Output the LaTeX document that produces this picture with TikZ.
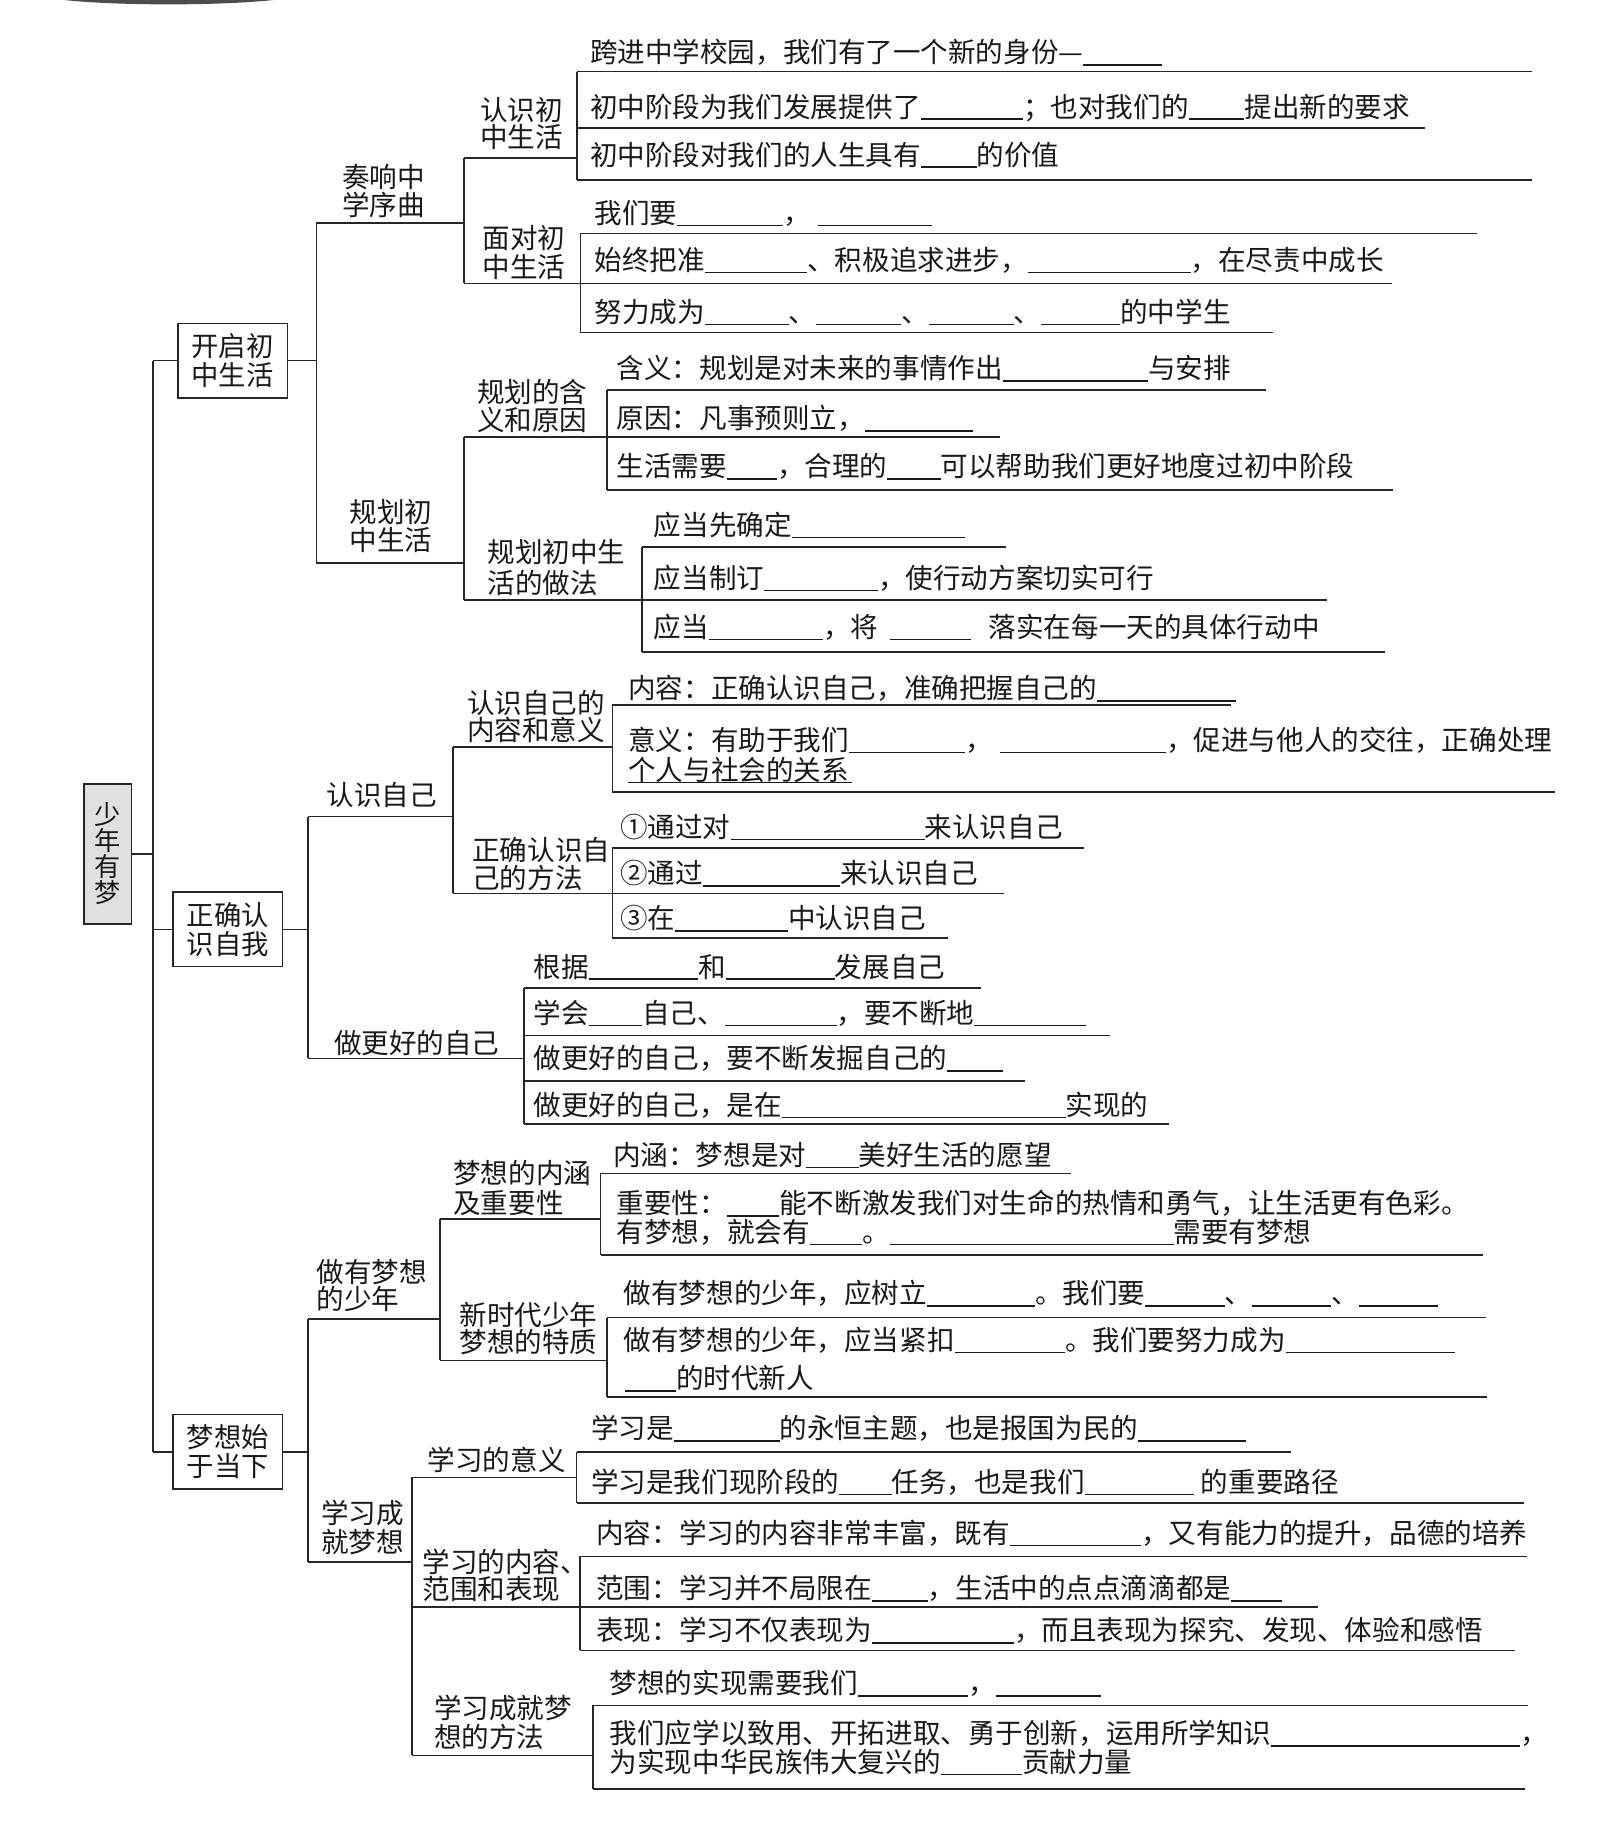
\documentclass[tikz,border=0pt]{standalone}
\usepackage{fontspec}
\newfontfamily\cjk{Noto Sans CJK SC}
\newcommand\blk[1]{\rule[-2.5pt]{#1pt}{1.3pt}}
\newcommand\twol[3][24]{\vtop{\baselineskip=#1pt\lineskiplimit=-1000pt\lineskip=0pt\hbox{#2}\hbox{#3}}}
\newcommand\leafline[3]{\coordinate (#1) at (#2);\draw[ln] (#1 -| #3) -- (#1);}
\tikzset{
  ln/.style={line width=1.4pt, draw=black!85},
  tx/.style={anchor=base west, inner sep=0pt, font=\cjk\fontsize{23.7}{24}\selectfont, text=black!90},
  bx/.style={draw=black!85, line width=1.4pt, minimum width=94pt, minimum height=64pt, inner sep=0pt, align=center, font=\cjk\fontsize{23.5}{25}\selectfont, text=black!90},
  rt/.style={draw=black!85, fill=black!12, line width=1.6pt, minimum width=41pt, minimum height=120pt, inner sep=0pt, align=center, font=\cjk\fontsize{22.5}{22.5}\selectfont, text=black!90}
}
\begin{document}
\begin{tikzpicture}[x=1pt,y=-1pt]
\useasboundingbox (0,0) rectangle (1392,1568);
\fill[white] (0,0) rectangle (1392,1568);
% top decoration
\fill[black!70] (55,0) .. controls (100,5) and (190,5) .. (235,0) -- cycle;

% root and level 1 boxes
\node[rt] (root) at (92.5,734) {少\\年\\有\\梦};
\node[bx] (b1) at (200,310) {开启初\\中生活};
\node[bx] (b2) at (195.8,799) {正确认\\识自我};
\node[bx] (b3) at (195.8,1248) {梦想始\\于当下};

% trunk
\coordinate (T1) at (131.6,310);
\coordinate (T3) at (131.6,1248);
\draw[ln] (T1) -- (T3);
\draw[ln] (root.east) -- (root.east -| T1);
\draw[ln] (b1.west -| T1) -- (b1.west);
\draw[ln] (b2.west -| T1) -- (b2.west);
\draw[ln] (b3.west -| T1) -- (b3.west);

% bracket coordinates
\coordinate (A1) at (496,61.6);   \coordinate (A2) at (496,154.8);
\coordinate (B1) at (499,200.6);  \coordinate (B2) at (499,285.8);
\coordinate (C1) at (522,335.3);  \coordinate (C2) at (522,421.3);
\coordinate (D1) at (552,470);    \coordinate (D2) at (552,560.3);
\coordinate (E1) at (526.4,606);  \coordinate (E2) at (526.4,680.7);
\coordinate (F1) at (526.4,729);  \coordinate (F2) at (526.4,806.2);
\coordinate (G1) at (450.5,849.5);\coordinate (G2) at (450.5,966.5);
\coordinate (H1) at (516.3,1008.7);\coordinate (H2) at (516.3,1079);
\coordinate (I1) at (522,1132.6); \coordinate (I2) at (522,1201);
\coordinate (J1) at (495.7,1248); \coordinate (J2) at (495.7,1292);
\coordinate (M1) at (498.7,1338); \coordinate (M2) at (498.7,1418.7);
\coordinate (N1) at (509.8,1466); \coordinate (N2) at (509.8,1538);
\foreach \p in {A,B,C,D,E,F,G,H,I,J,M,N} \draw[ln] (\p1) -- (\p2);

% branch 1
\coordinate (V1a) at (272,191.5); \coordinate (V1b) at (272,483.8);
\draw[ln] (b1.east) -- (b1.east -| V1a);
\draw[ln] (V1a) -- (V1b);
\coordinate (K1) at (399,136); \coordinate (K2) at (399,243.6);
\coordinate (K3) at (399,375.5); \coordinate (K4) at (399,516);
\draw[ln] (V1a) -- (V1a -| K1);
\draw[ln] (K1) -- (K2);
\draw[ln] (K1) -- (K1 -| A1);
\draw[ln] (K2) -- (K2 -| B1);
\draw[ln] (V1b) -- (V1b -| K3);
\draw[ln] (K3) -- (K4);
\draw[ln] (K3) -- (K3 -| C1);
\draw[ln] (K4) -- (K4 -| D1);

% branch 2
\coordinate (V2a) at (264.6,702); \coordinate (V2b) at (264.6,909.9);
\draw[ln] (b2.east) -- (b2.east -| V2a);
\draw[ln] (V2a) -- (V2b);
\coordinate (K5) at (389.5,642); \coordinate (K6) at (389.5,768);
\draw[ln] (V2a) -- (V2a -| K5);
\draw[ln] (K5) -- (K6);
\draw[ln] (K5) -- (K5 -| E1);
\draw[ln] (K6) -- (K6 -| F1);
\draw[ln] (V2b) -- (V2b -| G1);

% branch 3
\coordinate (V3a) at (264.6,1134); \coordinate (V3b) at (264.6,1342.8);
\draw[ln] (b3.east) -- (b3.east -| V3a);
\draw[ln] (V3a) -- (V3b);
\coordinate (K7) at (378,1048); \coordinate (K8) at (378,1169.4);
\draw[ln] (V3a) -- (V3a -| K7);
\draw[ln] (K7) -- (K8);
\draw[ln] (K7) -- (K7 -| H1);
\draw[ln] (K8) -- (K8 -| I1);
\coordinate (K9) at (354.4,1270); \coordinate (K10) at (354.4,1509); \coordinate (K11) at (354.4,1381.5);
\draw[ln] (V3b) -- (V3b -| K9);
\draw[ln] (K9) -- (K10);
\draw[ln] (K9) -- (K9 -| J1);
\draw[ln] (K11) -- (K11 -| M1);
\draw[ln] (K10) -- (K10 -| N1);

% leaf underlines
\leafline{e1}{1317,61.6}{A1} \leafline{e2}{1225,109.8}{A1} \leafline{e3}{1317,154.8}{A1}
\leafline{e4}{1269.7,200.6}{B1} \leafline{e5}{1196.6,243.6}{B1} \leafline{e6}{1094.6,285.8}{B1}
\leafline{e7}{1088,335.3}{C1} \leafline{e8}{860,375.5}{C1} \leafline{e9}{1197.7,421.3}{C1}
\leafline{e10}{865,470}{D1} \leafline{e11}{1141,516}{D1} \leafline{e12}{1190.5,560.3}{D1}
\leafline{e13}{1058,606}{E1} \leafline{e14}{1336.7,680.7}{E1}
\leafline{e15}{932,729}{F1} \leafline{e16}{863,768}{F1} \leafline{e17}{815,806.2}{F1}
\leafline{e18}{843.5,849.5}{G1} \leafline{e19}{954,890}{G1} \leafline{e20}{881,929}{G1} \leafline{e21}{1005,966.5}{G1}
\leafline{e22}{921,1008.7}{H1} \leafline{e23}{1274.7,1079}{H1}
\leafline{e24}{1277,1132.6}{I1} \leafline{e25}{1278,1201}{I1}
\leafline{e26}{1110,1248}{J1} \leafline{e27}{1310,1292}{J1}
\leafline{e28}{1312.6,1338}{M1} \leafline{e29}{1133,1381.5}{M1} \leafline{e30}{1302.5,1418.7}{M1}
\leafline{e31}{1313.6,1466}{N1} \leafline{e32}{1311,1538}{N1}

% level 2 and 3 labels
\node[tx] (l1) at (294,160.9) {\twol{奏响中}{学序曲}};
\node[tx] (l2) at (300.5,448.9) {\twol{规划初}{中生活}};
\node[tx] (l3) at (412.5,103.5) {\twol[23]{认识初}{中生活}};
\node[tx] (l4) at (414.6,213.9) {\twol[24.5]{面对初}{中生活}};
\node[tx] (l5) at (410,345.7) {\twol{规划的含}{义和原因}};
\node[tx] (l6) at (419,483.2) {\twol[27]{规划初中生}{活的做法}};
\node[tx] (l7) at (280.7,692.5) {认识自己};
\node[tx] (l8) at (287,905.9) {做更好的自己};
\node[tx] (l9) at (401.4,613.5) {\twol[23]{认识自己的}{内容和意义}};
\node[tx] (l10) at (405.8,739.9) {\twol{正确认识自}{己的方法}};
\node[tx] (l11) at (272,1102.3) {\twol[23]{做有梦想}{的少年}};
\node[tx] (l12) at (276,1309.9) {\twol[24.6]{学习成}{就梦想}};
\node[tx] (l13) at (389.5,1017.6) {\twol[26]{梦想的内涵}{及重要性}};
\node[tx] (l14) at (394.8,1139.6) {\twol[23]{新时代少年}{梦想的特质}};
\node[tx] (l15) at (367.6,1263.9) {学习的意义};
\node[tx] (l16) at (363,1351.7) {\twol[23]{学习的内容、}{范围和表现}};
\node[tx] (l17) at (373,1477.5) {\twol[24.4]{学习成就梦}{想的方法}};

% leaves
\node[tx] (n1) at (507,53.9) {跨进中学校园，我们有了一个新的身份—\blk{68}};
\node[tx] (n2) at (507,100.6) {初中阶段为我们发展提供了\blk{88}；也对我们的\blk{48}提出新的要求};
\node[tx] (n3) at (507,141.9) {初中阶段对我们的人生具有\blk{48}的价值};
\node[tx] (n4) at (511,191.9) {我们要\blk{91}，\hspace{6pt}\blk{98}};
\node[tx] (n5) at (511,232.5) {始终把准\blk{88}、积极追求进步，\blk{140}，在尽责中成长};
\node[tx] (n6) at (511,276.9) {努力成为\blk{72}、\blk{73}、\blk{73}、\blk{68}的中学生};
\node[tx] (n7) at (530,325.5) {含义：规划是对未来的事情作出\blk{125}与安排};
\node[tx] (n8) at (530,368.6) {原因：凡事预则立，\blk{93}};
\node[tx] (n9) at (530,409.9) {生活需要\blk{43}，合理的\blk{46}可以帮助我们更好地度过初中阶段};
\node[tx] (n10) at (562,460.3) {应当先确定\blk{149}};
\node[tx] (n11) at (562,505.9) {应当制订\blk{98}，使行动方案切实可行};
\node[tx] (n12) at (562,547.7) {应当\blk{98}，将\hspace{10pt}\blk{70}\hspace{15pt}落实在每一天的具体行动中};
\node[tx] (n13) at (540,600.6) {内容：正确认识自己，准确把握自己的\blk{119}};
\node[tx] (n14) at (540,645.2) {意义：有助于我们\blk{100}，\hspace{6pt}\blk{143}，促进与他人的交往，正确处理};
\node[tx] (n14b) at (540,670.9) {\rlap{\rule[-2.5pt]{192pt}{1.3pt}}个人与社会的关系};
\node[tx] (n15) at (533,719.7) {①通过对\blk{167}来认识自己};
\node[tx] (n16) at (533,759.7) {②通过\blk{118}来认识自己};
\node[tx] (n17) at (533,798.4) {③在\blk{97}中认识自己};
\node[tx] (n18) at (458.5,839.9) {根据\blk{94}和\blk{94}发展自己};
\node[tx] (n19) at (458.5,879.9) {学会\blk{46}自己、\blk{96}，要不断地\blk{96}};
\node[tx] (n20) at (458.5,918.9) {做更好的自己，要不断发掘自己的\blk{48}};
\node[tx] (n21) at (458.5,958.9) {做更好的自己，是在\blk{244}实现的};
\node[tx] (n22) at (527,1001.9) {内涵：梦想是对\blk{45}美好生活的愿望};
\node[tx] (n23) at (530,1043.5) {重要性：\blk{45}能不断激发我们对生命的热情和勇气，让生活更有色彩。};
\node[tx] (n23b) at (530,1067.9) {有梦想，就会有\blk{45}。\blk{244}需要有梦想};
\node[tx] (n24) at (536,1120.9) {做有梦想的少年，应树立\blk{93}。我们要\blk{68}、\blk{68}、\blk{68}};
\node[tx] (n25) at (536,1160.9) {做有梦想的少年，应当紧扣\blk{95}。我们要努力成为\blk{146}};
\node[tx] (n25b) at (537,1193.9) {\blk{44}的时代新人};
\node[tx] (n26) at (508,1236.9) {学习是\blk{91}的永恒主题，也是报国为民的\blk{93}};
\node[tx] (n27) at (508,1282.9) {学习是我们现阶段的\blk{45}任务，也是我们\blk{94}\hspace{6pt}的重要路径};
\node[tx] (n28) at (512.5,1326.9) {内容：学习的内容非常丰富，既有\blk{113}，又有能力的提升，品德的培养};
\node[tx] (n29) at (512.5,1374.5) {范围：学习并不局限在\blk{48}，生活中的点点滴滴都是\blk{44}};
\node[tx] (n30) at (512.5,1410.5) {表现：学习不仅表现为\blk{122}，而且表现为探究、发现、体验和感悟};
\node[tx] (n31) at (524,1455.9) {梦想的实现需要我们\blk{95}，\blk{90}};
\node[tx] (n32) at (524,1498.9) {我们应学以致用、开拓进取、勇于创新，运用所学知识\blk{214}，};
\node[tx] (n32b) at (524,1523.7) {为实现中华民族伟大复兴的\blk{70}贡献力量};
\end{tikzpicture}
\end{document}
